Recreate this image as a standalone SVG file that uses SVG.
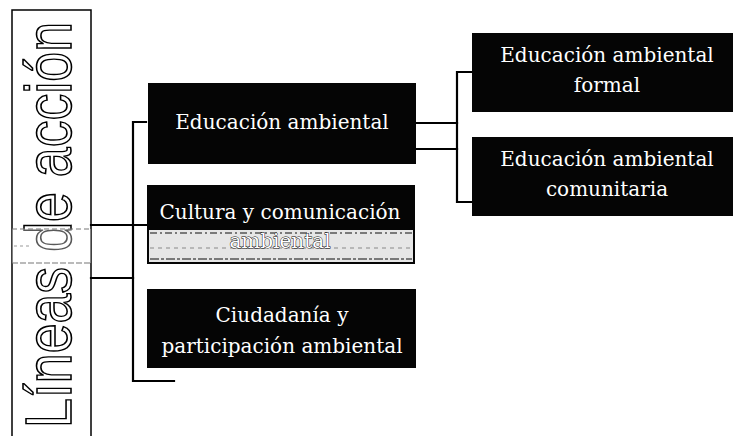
<svg xmlns="http://www.w3.org/2000/svg" width="733" height="436" viewBox="0 0 733 436">
<style>
.box{fill:#050505;}
.t{font-family:"DejaVu Serif","Liberation Serif",serif;font-size:20px;fill:#fff;text-anchor:middle;}
.c{stroke:#000;stroke-width:2.2;fill:none;stroke-linecap:square;}
.big{font-family:"Liberation Sans","DejaVu Sans",sans-serif;font-size:65px;fill:#fff;stroke:#000;stroke-width:1.6;}
</style>
<rect width="733" height="436" fill="#fff"/>
<g id="lineas">
<rect x="12" y="10" width="79" height="430" fill="#fff" stroke="#000" stroke-width="1.5"/>
<text class="big" transform="translate(71,428) rotate(-90)" textLength="406" lengthAdjust="spacingAndGlyphs">Líneas de acción</text>
<rect x="12" y="229" width="79" height="34" fill="#fff" opacity="0.35"/>
<line x1="12" y1="229" x2="91" y2="229" stroke="#777" stroke-width="1.2" stroke-dasharray="5 3"/>
<line x1="12" y1="263" x2="91" y2="263" stroke="#777" stroke-width="1.2" stroke-dasharray="6 2"/>
<line x1="14" y1="246" x2="30" y2="246" stroke="#999" stroke-width="1" stroke-dasharray="3 3"/>
</g>
<g id="connectors">
<path class="c" d="M91,225 H146"/>
<path class="c" d="M91,278 H133"/>
<path class="c" d="M146,122 H133 V381 H174"/>
<path class="c" d="M416,123 H457"/>
<path class="c" d="M416,149 H457"/>
<path class="c" d="M471,72 H457 V202 H471"/>
</g>
<g id="educacion">
<rect class="box" x="148" y="83" width="268" height="81"/>
<text class="t" x="282" y="129">Educación ambiental</text>
</g>
<g id="cultura">
<rect class="box" x="147" y="185" width="268" height="79"/>
<rect x="149" y="230" width="264" height="32" fill="#e6e6e6"/>
<line x1="150" y1="233" x2="412" y2="233" stroke="#555" stroke-width="1.3" stroke-dasharray="7 3 2 3"/>
<line x1="150" y1="248" x2="412" y2="248" stroke="#888" stroke-width="1" stroke-dasharray="4 4"/>
<line x1="150" y1="259" x2="412" y2="259" stroke="#555" stroke-width="1.3" stroke-dasharray="9 2 3 2"/>
<text class="t" x="280" y="219">Cultura y comunicación</text>
<text class="t" x="280" y="248" style="stroke:#000;stroke-width:0.9;paint-order:stroke">ambiental</text>
</g>
<g id="ciudadania">
<rect class="box" x="147" y="289" width="269" height="79"/>
<text class="t" x="282" y="322">Ciudadanía y</text>
<text class="t" x="282" y="353">participación ambiental</text>
</g>
<g id="formal">
<rect class="box" x="472" y="33" width="261" height="79"/>
<text class="t" x="607" y="62">Educación ambiental</text>
<text class="t" x="607" y="92">formal</text>
</g>
<g id="comunitaria">
<rect class="box" x="472" y="137" width="261" height="79"/>
<text class="t" x="607" y="166">Educación ambiental</text>
<text class="t" x="607" y="196">comunitaria</text>
</g>
</svg>
